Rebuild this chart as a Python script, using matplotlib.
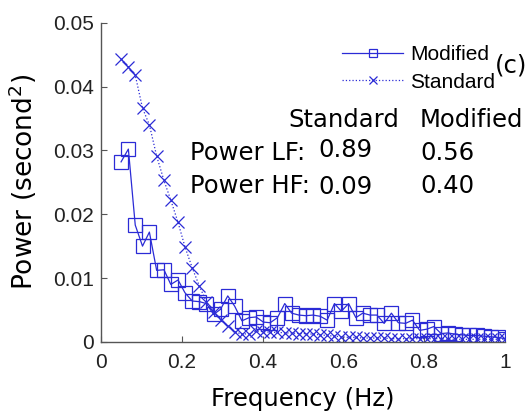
import numpy as np
import matplotlib.pyplot as plt

# frequency grid (Hz)
freq = [0.050, 0.068, 0.085, 0.103, 0.120, 0.138, 0.156, 0.173, 0.191, 0.208,
        0.226, 0.244, 0.261, 0.279, 0.296, 0.314, 0.331, 0.349, 0.367, 0.384,
        0.402, 0.419, 0.437, 0.455, 0.472, 0.490, 0.507, 0.525, 0.543, 0.560,
        0.578, 0.595, 0.613, 0.631, 0.648, 0.666, 0.683, 0.701, 0.719, 0.736,
        0.754, 0.771, 0.789, 0.807, 0.824, 0.842, 0.859, 0.877, 0.894, 0.912,
        0.930, 0.947, 0.965, 0.982, 1.000]

modified = [0.0282, 0.0302, 0.0183, 0.0150, 0.0172, 0.0112, 0.0113, 0.0090, 0.0097, 0.0077,
            0.0064, 0.0063, 0.0060, 0.0043, 0.0051, 0.0072, 0.0056, 0.0033, 0.0038, 0.0039,
            0.0031, 0.0030, 0.0038, 0.0060, 0.0045, 0.0042, 0.0041, 0.0042, 0.0040, 0.0034,
            0.0060, 0.0048, 0.0060, 0.0038, 0.0045, 0.0042, 0.0042, 0.0029, 0.0045, 0.0030,
            0.0029, 0.0034, 0.0018, 0.0020, 0.0024, 0.0013, 0.0014, 0.0012, 0.0011, 0.0010,
            0.0010, 0.0009, 0.0008, 0.0007, 0.0005]

standard = [0.0443, 0.0431, 0.0418, 0.0366, 0.0340, 0.0291, 0.0253, 0.0222, 0.0187, 0.0149,
            0.0116, 0.0087, 0.0063, 0.0047, 0.0035, 0.0025, 0.0016, 0.0012, 0.0013, 0.0017,
            0.0016, 0.0015, 0.0015, 0.0014, 0.0014, 0.0013, 0.0013, 0.0012, 0.0011, 0.0010,
            0.0009, 0.0008, 0.0007, 0.0007, 0.0006, 0.0006, 0.0006, 0.0006, 0.0005, 0.0005,
            0.0005, 0.0005, 0.0005, 0.0005, 0.0005, 0.0005, 0.0004, 0.0004, 0.0004, 0.0004,
            0.0004, 0.0004, 0.0004, 0.0004, 0.0004]

col_names = ['Standard', 'Modified']
row_names = ['Power LF:', 'Power HF:']
lf_vals = ['0.89', '0.56']
hf_vals = ['0.09', '0.40']

blue = '#2b2bd6'
tick_font = 'Liberation Sans'
label_font = 'DejaVu Sans'
big = 17.5

fig = plt.figure(figsize=(5.31, 4.2), dpi=100)
ax = fig.add_axes([0.190, 0.186, 0.761, 0.760])

ax.plot(freq, modified, '-', color=blue, lw=0.9, marker='s', ms=9.5,
        mfc='none', mec=blue, mew=0.9, label='Modified')
ax.plot(freq, standard, ':', color=blue, lw=0.9, marker='x', ms=8,
        mec=blue, mew=0.9, label='Standard')

ax.set_xlim(0, 1)
ax.set_ylim(0, 0.05)
ax.set_xticks([0, 0.2, 0.4, 0.6, 0.8, 1])
ax.set_xticklabels(['0', '0.2', '0.4', '0.6', '0.8', '1'])
ax.set_yticks([0, 0.01, 0.02, 0.03, 0.04, 0.05])
ax.set_yticklabels(['0', '0.01', '0.02', '0.03', '0.04', '0.05'])
for lab in ax.get_xticklabels() + ax.get_yticklabels():
    lab.set_fontfamily(tick_font)
    lab.set_fontsize(15)
ax.tick_params(direction='in', length=4, color='#555555', labelcolor='#222222')
ax.tick_params(axis='x', pad=8)
ax.tick_params(axis='y', pad=5)
ax.spines['top'].set_visible(False)
ax.spines['right'].set_visible(False)
for s in ['left', 'bottom']:
    ax.spines[s].set_color('#555555')
    ax.spines[s].set_linewidth(1.0)

ax.set_xlabel('Frequency (Hz)', fontfamily=label_font, fontsize=big)
ax.set_ylabel('Power (second$^2$)', fontfamily=label_font, fontsize=19)
ax.xaxis.set_label_coords(0.5, -0.142)
ax.yaxis.set_label_coords(-0.152, 0.5)

leg = ax.legend(loc='upper left', bbox_to_anchor=(0.577, 0.955), frameon=False,
                prop={'family': tick_font, 'size': 15}, handlelength=2.9,
                handletextpad=0.35, labelspacing=0.4, borderaxespad=0,
                markerscale=0.65)

ax.text(1.015, 0.867, '(c)', transform=ax.transAxes, fontfamily=label_font,
        fontsize=big, ha='center', va='center')

# table of band powers
ax.text(0.463, 0.673, col_names[0], transform=ax.transAxes, fontfamily=label_font,
        fontsize=big, ha='left', va='baseline')
ax.text(0.790, 0.673, col_names[1], transform=ax.transAxes, fontfamily=label_font,
        fontsize=big, ha='left', va='baseline')
ax.text(0.220, 0.570, row_names[0], transform=ax.transAxes, fontfamily=label_font,
        fontsize=big, ha='left', va='baseline')
ax.text(0.220, 0.466, row_names[1], transform=ax.transAxes, fontfamily=label_font,
        fontsize=big, ha='left', va='baseline')
ax.text(0.537, 0.578, lf_vals[0], transform=ax.transAxes, fontfamily=label_font,
        fontsize=big, ha='left', va='baseline')
ax.text(0.790, 0.570, lf_vals[1], transform=ax.transAxes, fontfamily=label_font,
        fontsize=big, ha='left', va='baseline')
ax.text(0.537, 0.462, hf_vals[0], transform=ax.transAxes, fontfamily=label_font,
        fontsize=big, ha='left', va='baseline')
ax.text(0.790, 0.466, hf_vals[1], transform=ax.transAxes, fontfamily=label_font,
        fontsize=big, ha='left', va='baseline')

fig.savefig('out.png', dpi=100)
